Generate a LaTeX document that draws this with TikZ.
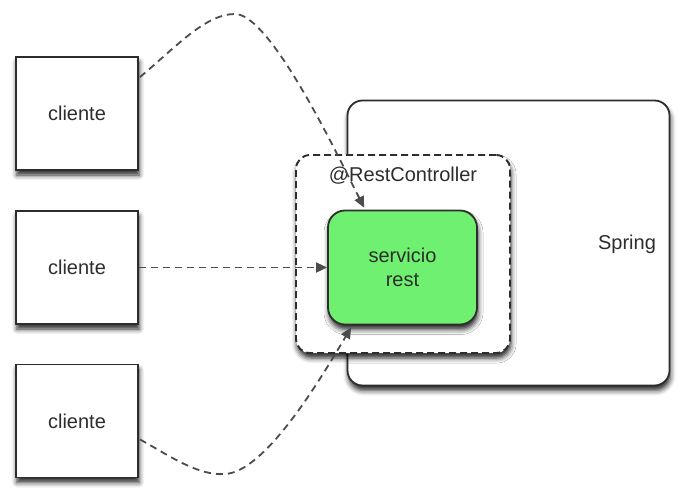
\documentclass[tikz,border=0pt]{standalone}
\usepackage{fontspec}
\setmainfont{Liberation Sans}
\usetikzlibrary{arrows.meta,shadows.blur,calc}
\definecolor{ink}{RGB}{45,45,45}
\definecolor{lgreen}{RGB}{112,240,112}
\begin{document}
\begin{tikzpicture}[x=1pt,y=-1pt,
  every node/.style={font=\fontsize{20}{23}\selectfont, text=ink},
  shade/.style={blur shadow={shadow xshift=1pt, shadow yshift=-5pt, shadow blur radius=5pt, shadow opacity=85}},
  clientbox/.style={draw=ink, line width=1.8pt, fill=white, minimum width=122pt, minimum height=113pt, inner sep=0pt, shade},
  conn/.style={draw=ink!85, line width=1.8pt, dash pattern=on 7pt off 5pt},
  tip/.style={-{Triangle[length=11pt,width=10pt]}}
]
\useasboundingbox (0,0) rectangle (679,487);
% Spring container
\node[draw=ink, line width=1.8pt, fill=white, rounded corners=15pt, minimum width=322pt, minimum height=285pt, inner sep=0pt, shade] (spring) at (508.5,243) {};
\node (springlbl) at (627,244) {Spring};
% RestController dashed box
\node[draw=ink, line width=1.9pt, dash pattern=on 7pt off 4pt, fill=white, rounded corners=14pt, minimum width=214pt, minimum height=198pt, inner sep=0pt, shade] (rc) at (403,254) {};
\node (rclbl) at (403,176) {@RestController};
% green service
\node[draw=ink, line width=1.8pt, fill=lgreen, rounded corners=17pt, minimum width=149pt, minimum height=114pt, inner sep=0pt, shade, align=center] (svc) at (402.5,267.5) {servicio\\[1pt]rest};
% clients
\node[clientbox] (c1) at (77,113.5) {cliente};
\node[clientbox] (c2) at (77,267.5) {cliente};
\node[clientbox] (c3) at (77,421) {cliente};
% connector anchors
\coordinate (s1) at ($(c1.north east)+(1,21)$);
\coordinate (p1) at (235,14);
\coordinate (t1) at ($(svc.north west)+(37,-2)$);
\coordinate (s3) at ($(c3.south east)+(1,-39)$);
\coordinate (p3) at (225,474);
\coordinate (t3) at ($(svc.south west)+(24,2)$);
% connectors
\draw[conn, tip] (s1) .. controls (175,48) and (205,14) .. (p1) .. controls (270,14) and (335,150) .. (t1);
\draw[conn, tip] (c2.east) -- (svc.west);
\draw[conn, tip] (s3) .. controls (170,456) and (198,476) .. (p3) .. controls (265,472) and (320,380) .. (t3);
\end{tikzpicture}
\end{document}
